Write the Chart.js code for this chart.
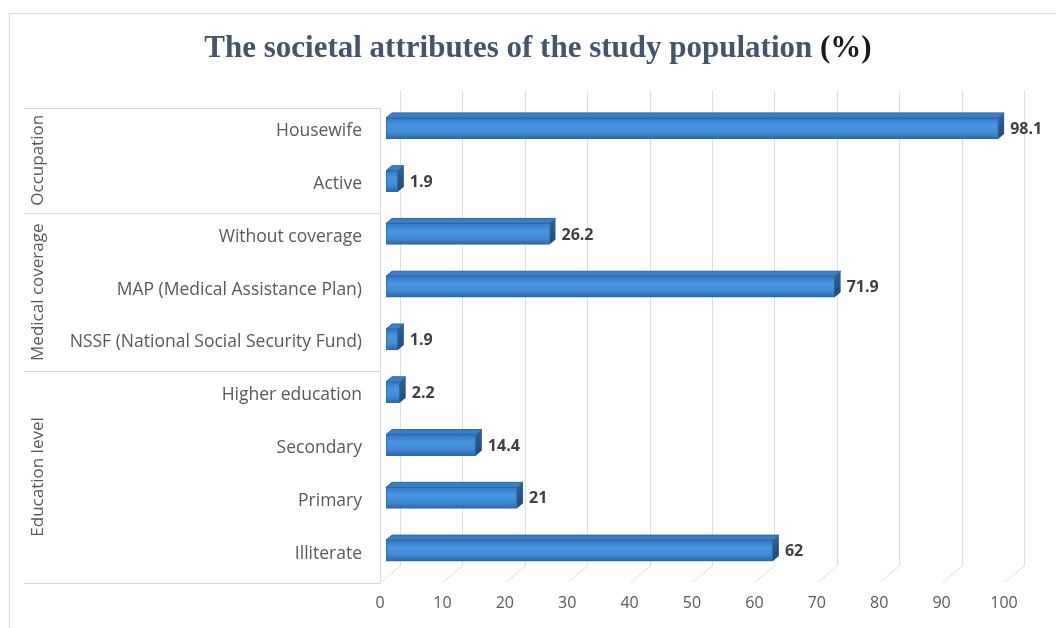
<!DOCTYPE html>
<html>
<head>
<meta charset="utf-8">
<script src="https://cdn.jsdelivr.net/npm/chart.js@4.4.1/dist/chart.umd.min.js"></script>
<style>
  html, body { margin: 0; padding: 0; background: #ffffff; }
  #wrap { width: 1056px; height: 628px; position: relative; }
</style>
</head>
<body>
<div id="wrap"><canvas id="c" width="1056" height="628"></canvas></div>
<script>
const titleMain = 'The societal attributes of the study population ';
const titleUnit = '(%)';
const categories = ['Housewife', 'Active', 'Without coverage', 'MAP (Medical Assistance Plan)',
  'NSSF (National Social Security Fund)', 'Higher education', 'Secondary', 'Primary', 'Illiterate'];
const values = [98.1, 1.9, 26.2, 71.9, 1.9, 2.2, 14.4, 21, 62];
const groupNames = ['Occupation', 'Medical coverage', 'Education level'];
const groupSizes = [2, 3, 4];
const xMin = 0, xMax = 100, xStep = 10;

const GRID = '#DADFE7';
const AXISLINE = '#D9D9D9';
const BACK = { dx: 14, dy: -11 };
const FRONT = { dx: -6, dy: 5.5 };
const DEPTH = { dx: 6, dy: -5 };

function barGradient(context) {
  const chart = context.chart;
  const ys = chart.scales.y;
  if (!chart.chartArea || !ys) return '#4190DC';
  const cy = ys.getPixelForValue(context.dataIndex);
  const h = 21;
  const g = chart.ctx.createLinearGradient(0, cy - h / 2, 0, cy + h / 2);
  g.addColorStop(0, '#3478C4');
  g.addColorStop(0.35, '#4896E0');
  g.addColorStop(0.7, '#408AD5');
  g.addColorStop(1, '#2C68AA');
  return g;
}

const deco = {
  id: 'deco',
  beforeDraw(chart) {
    const ctx = chart.ctx;
    ctx.save();
    ctx.strokeStyle = '#D9D9D9';
    ctx.lineWidth = 1;
    ctx.strokeRect(9.5, 13.5, 1100, 700);
    ctx.font = 'bold 31px "Liberation Serif", "Times New Roman", serif';
    ctx.textBaseline = 'alphabetic';
    const w1 = ctx.measureText(titleMain).width;
    const w2 = ctx.measureText(titleUnit).width;
    const x0 = 538 - (w1 + w2) / 2;
    ctx.fillStyle = '#44546A';
    ctx.textAlign = 'left';
    ctx.fillText(titleMain, x0, 57);
    ctx.fillStyle = '#1a1a1a';
    ctx.fillText(titleUnit, x0 + w1, 57);
    ctx.restore();
  },
  beforeDatasetsDraw(chart) {
    const ctx = chart.ctx;
    const xs = chart.scales.x, ys = chart.scales.y;
    const area = chart.chartArea;
    ctx.save();
    ctx.lineWidth = 1;
    ctx.strokeStyle = GRID;
    xs.ticks.forEach(t => {
      const px = Math.round(xs.getPixelForValue(t.value));
      const bx = px + BACK.dx + 0.5;
      ctx.beginPath();
      ctx.moveTo(bx, area.top + BACK.dy);
      ctx.lineTo(bx, area.bottom + BACK.dy);
      ctx.lineTo(px + FRONT.dx + 0.5, area.bottom + FRONT.dy);
      ctx.stroke();
    });
    ctx.strokeStyle = AXISLINE;
    const wx = Math.round(xs.getPixelForValue(xMin) + FRONT.dx) + 0.5;
    ctx.beginPath();
    ctx.moveTo(wx, area.top + FRONT.dy);
    ctx.lineTo(wx, area.bottom + FRONT.dy);
    ctx.stroke();
    const step = ys.getPixelForValue(1) - ys.getPixelForValue(0);
    let idx = 0;
    const bounds = [];
    groupSizes.forEach(n => { bounds.push(idx); idx += n; });
    bounds.push(idx);
    bounds.forEach(b => {
      const y = Math.round(ys.getPixelForValue(b) - step / 2 + FRONT.dy) + 0.5;
      ctx.beginPath();
      ctx.moveTo(24, y);
      ctx.lineTo(wx, y);
      ctx.stroke();
    });
    ctx.fillStyle = '#595959';
    ctx.font = '17px "Open Sans", sans-serif';
    ctx.textAlign = 'center';
    ctx.textBaseline = 'middle';
    groupNames.forEach((g, i) => {
      const yTop = ys.getPixelForValue(bounds[i]) - step / 2 + FRONT.dy;
      const yBot = ys.getPixelForValue(bounds[i + 1]) - step / 2 + FRONT.dy;
      ctx.save();
      ctx.translate(38, (yTop + yBot) / 2);
      ctx.rotate(-Math.PI / 2);
      ctx.fillText(g, 0, 0);
      ctx.restore();
    });
    ctx.restore();
  },
  afterDatasetsDraw(chart) {
    const ctx = chart.ctx;
    const meta = chart.getDatasetMeta(0);
    ctx.save();
    meta.data.forEach((el, i) => {
      const left = Math.min(el.base, el.x), right = Math.max(el.base, el.x);
      const top = el.y - el.height / 2, bot = el.y + el.height / 2;
      ctx.fillStyle = '#3C7EC6';
      ctx.beginPath();
      ctx.moveTo(left, top);
      ctx.lineTo(left + DEPTH.dx, top + DEPTH.dy);
      ctx.lineTo(right + DEPTH.dx, top + DEPTH.dy);
      ctx.lineTo(right, top);
      ctx.closePath();
      ctx.fill();
      ctx.strokeStyle = '#2E67A6';
      ctx.lineWidth = 1;
      ctx.stroke();
      const sg = ctx.createLinearGradient(0, top, 0, bot);
      sg.addColorStop(0, '#2A5F98');
      sg.addColorStop(1, '#1E4A78');
      ctx.fillStyle = sg;
      ctx.beginPath();
      ctx.moveTo(right, top);
      ctx.lineTo(right + DEPTH.dx, top + DEPTH.dy);
      ctx.lineTo(right + DEPTH.dx, bot + DEPTH.dy);
      ctx.lineTo(right, bot);
      ctx.closePath();
      ctx.fill();
      ctx.fillStyle = '#404040';
      ctx.font = 'bold 16px "Open Sans", sans-serif';
      ctx.textAlign = 'left';
      ctx.textBaseline = 'middle';
      ctx.fillText(String(values[i]), right + 12, el.y + 1);
    });
    ctx.restore();
  }
};

new Chart(document.getElementById('c'), {
  type: 'bar',
  data: {
    labels: categories,
    datasets: [{
      data: values,
      backgroundColor: barGradient,
      borderColor: '#2C68AA',
      borderWidth: 1,
      borderSkipped: false,
      barThickness: 21
    }]
  },
  options: {
    indexAxis: 'y',
    responsive: false,
    animation: false,
    devicePixelRatio: 1,
    layout: { padding: { top: 102, right: 46, bottom: 0, left: 0 } },
    plugins: { legend: { display: false }, title: { display: false }, tooltip: { enabled: false } },
    scales: {
      x: {
        min: xMin, max: xMax,
        grid: { display: false, drawTicks: false },
        border: { display: false },
        ticks: {
          stepSize: xStep,
          color: '#595959',
          font: { family: '"Open Sans", sans-serif', size: 16 },
          padding: 17,
          labelOffset: -6,
          maxRotation: 0
        },
        afterFit(scale) { scale.height = 51; }
      },
      y: {
        grid: { display: false, drawTicks: false },
        border: { display: false },
        ticks: {
          autoSkip: false,
          color: '#595959',
          font: { family: '"Open Sans", sans-serif', size: 17.5 },
          padding: 24,
          labelOffset: 3
        },
        afterFit(scale) { scale.width = 386; }
      }
    }
  },
  plugins: [deco]
});
</script>
</body>
</html>
